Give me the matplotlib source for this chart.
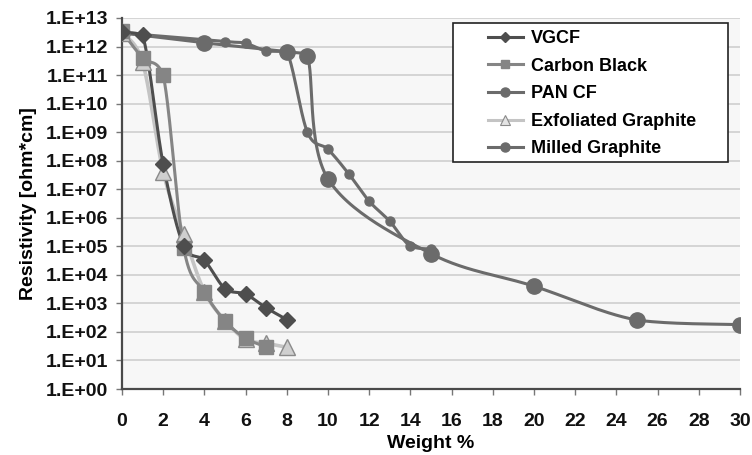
import numpy as np
import matplotlib
matplotlib.use("Agg")
import matplotlib.pyplot as plt
from matplotlib.lines import Line2D
from matplotlib.patches import Rectangle
from matplotlib.ticker import FixedLocator, FuncFormatter

plt.rcParams['font.family'] = ['Liberation Sans', 'DejaVu Sans']
plt.rcParams['font.weight'] = 'bold'

# Resistivity [ohm*cm] versus filler loading [wt %]
vgcf_x = [0, 1, 2, 3, 4, 5, 6, 7, 8]
vgcf_y = [3.2e12, 2.5e12, 7.5e7, 1.0e5, 3.2e4, 3.3e3, 2.1e3, 7.0e2, 2.7e2]

cb_x = [0, 1, 2, 3, 4, 5, 6, 7]
cb_y = [3.4e12, 4.0e11, 1.0e11, 8.5e4, 2.5e3, 2.4e2, 6.0e1, 3.0e1]

pan_x = [0, 4, 8, 9, 10, 15, 20, 25, 30]
pan_y = [3.0e12, 1.35e12, 6.6e11, 4.8e11, 2.3e7, 5.5e4, 4.0e3, 2.6e2, 1.8e2]

exf_x = [0, 1, 2, 3, 4, 5, 6, 7, 8]
exf_y = [3.0e12, 2.8e11, 4.0e7, 2.6e5, 2.6e3, 2.5e2, 5.5e1, 4.0e1, 2.9e1]

mill_x = [0, 5, 6, 7, 8, 9, 10, 11, 12, 13, 14, 15]
mill_y = [3.0e12, 1.5e12, 1.3e12, 7.0e11, 6.6e11, 1.0e9, 2.5e8, 3.5e7, 3.8e6, 7.5e5, 1.0e5, 8.0e4]

x_ticks = list(range(0, 31, 2))
y_exponents = list(range(0, 14))


def smooth(xs, ys, n=30):
    """Bezier smoothing in (x, log10 y) space; control points are kept
    inside each segment's value range so the curve never overshoots."""
    px = np.asarray(xs, float)
    py = np.log10(np.asarray(ys, float))
    pts = np.column_stack([px, py])
    out = [pts[0]]
    t = np.linspace(0, 1, n)[1:, None]
    for i in range(len(pts) - 1):
        p0 = pts[i - 1] if i > 0 else pts[i]
        p1 = pts[i]
        p2 = pts[i + 1]
        p3 = pts[i + 2] if i + 2 < len(pts) else pts[i + 1]
        c1 = p1 + (p2 - p0) / 6.0
        c2 = p2 - (p3 - p1) / 6.0
        lo, hi = min(p1[1], p2[1]), max(p1[1], p2[1])
        c1[1] = np.clip(c1[1], lo, hi)
        c2[1] = np.clip(c2[1], lo, hi)
        seg = ((1 - t) ** 3) * p1 + 3 * ((1 - t) ** 2) * t * c1 \
            + 3 * (1 - t) * t ** 2 * c2 + t ** 3 * p2
        out.extend(seg)
    out = np.array(out)
    return out[:, 0], 10 ** out[:, 1]


fig = plt.figure(figsize=(7.52, 4.55), dpi=100)
ax = fig.add_axes([122 / 752, 1 - 389 / 455, 618 / 752, 371 / 455])
ax.set_facecolor('#f7f7f7')

series = [
    (mill_x, mill_y, '#6b6b6b', 'o', 6.5, '#6b6b6b', '#6b6b6b', 2.2),
    (pan_x, pan_y, '#6b6b6b', 'o', 11, '#6b6b6b', '#6b6b6b', 2.2),
    (exf_x, exf_y, '#c4c4c4', '^', 11, '#cfcfcf', '#8a8a8a', 2.6),
    (cb_x, cb_y, '#858585', 's', 10, '#858585', '#858585', 2.2),
    (vgcf_x, vgcf_y, '#4e4e4e', 'D', 8, '#4e4e4e', '#4e4e4e', 2.2),
]

for xs, ys, col, mk, ms, fc, ec, lw in series:
    sx, sy = smooth(xs, ys)
    ax.plot(sx, sy, color=col, lw=lw, solid_capstyle='round', zorder=3)
    ax.plot(xs, ys, ls='none', marker=mk, ms=ms, mfc=fc, mec=ec, mew=1.0,
            zorder=4)

ax.set_yscale('log')
ax.set_xlim(0, 30)
ax.set_ylim(1, 1e13)
ax.yaxis.set_major_locator(FixedLocator([10.0 ** e for e in y_exponents]))
ax.yaxis.set_minor_locator(FixedLocator([]))
ax.yaxis.set_major_formatter(FuncFormatter(
    lambda v, p: '1.E+%02d' % int(round(np.log10(v)))))
ax.xaxis.set_major_locator(FixedLocator(x_ticks))

ax.grid(axis='y', color='#cfcfcf', lw=1.2, zorder=0)
ax.set_axisbelow(True)
for s in ('top', 'right'):
    ax.spines[s].set_visible(False)
for s in ('left', 'bottom'):
    ax.spines[s].set_color('#4a4a4a')
    ax.spines[s].set_linewidth(1.6)
ax.tick_params(axis='both', direction='out', length=4, width=1,
               color='#777777', labelsize=14, labelcolor='#111111')
ax.tick_params(axis='x', pad=13)
ax.tick_params(axis='y', pad=6)

ax.set_xlabel('Weight %', fontsize=14, fontweight='bold', labelpad=4)
ax.set_ylabel('Resistivity [ohm*cm]', fontsize=14, fontweight='bold',
              labelpad=6)

# legend: framed box with generous inner margins
ax.add_patch(Rectangle((0.5356, 0.612), 0.445, 0.3745, transform=ax.transAxes,
                       facecolor='white', edgecolor='#222222', lw=1.2,
                       zorder=9, clip_on=False))
handles = [
    Line2D([], [], color='#4e4e4e', lw=2.2, marker='D', ms=5, mfc='#4e4e4e', mec='#4e4e4e'),
    Line2D([], [], color='#858585', lw=2.2, marker='s', ms=6, mfc='#858585', mec='#858585'),
    Line2D([], [], color='#6b6b6b', lw=2.2, marker='o', ms=6.5, mfc='#6b6b6b', mec='#6b6b6b'),
    Line2D([], [], color='#c4c4c4', lw=2.2, marker='^', ms=7, mfc='#e4e4e4', mec='#8a8a8a', mew=0.8),
    Line2D([], [], color='#6b6b6b', lw=2.2, marker='o', ms=6.5, mfc='#6b6b6b', mec='#6b6b6b'),
]
labels = ['VGCF', 'Carbon Black', 'PAN CF', 'Exfoliated Graphite', 'Milled Graphite']
leg = ax.legend(handles, labels, loc='upper left', bbox_to_anchor=(0.592, 0.968),
                fontsize=13, frameon=False, handlelength=1.95, handletextpad=0.45,
                borderpad=0, labelspacing=0.59, borderaxespad=0)
leg.set_zorder(10)

fig.savefig('out.png', dpi=100, facecolor='white')
